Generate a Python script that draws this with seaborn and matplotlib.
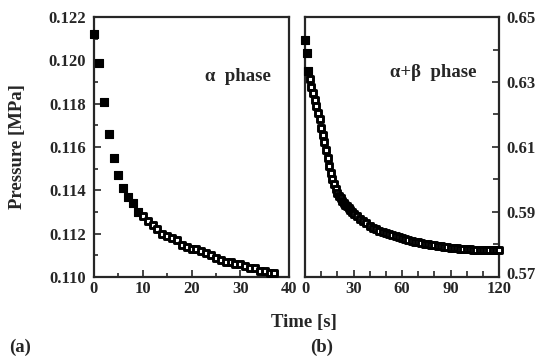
import numpy as np
import pandas as pd
import matplotlib
matplotlib.use("Agg")
import matplotlib.pyplot as plt
import matplotlib.transforms as mtransforms
import seaborn as sns
from matplotlib.ticker import MultipleLocator, FixedLocator, FormatStrFormatter

# ---- data ----
alpha_time = [0, 1, 2, 3, 4, 5, 6, 7, 8, 9, 10, 11, 12, 13, 14, 15, 16, 17, 18, 19,
              20, 21, 22, 23, 24, 25, 26, 27, 28, 29, 30, 31, 32, 33, 34, 35, 36, 37]
alpha_pressure = [0.1212, 0.1199, 0.1181, 0.1166, 0.1155, 0.1147, 0.1141, 0.1137, 0.1134, 0.1130,
                  0.1128, 0.1126, 0.1124, 0.1122, 0.1120, 0.1119, 0.1118, 0.1117, 0.1115, 0.1114,
                  0.1113, 0.1113, 0.1112, 0.1111, 0.1110, 0.1109, 0.1108, 0.1107, 0.1107, 0.1106,
                  0.1106, 0.1105, 0.1104, 0.1104, 0.1103, 0.1103, 0.1102, 0.1102]

ab_time = [0, 1, 2, 3, 4, 5, 6, 7, 8, 9, 10, 11, 12, 13, 14, 15, 16, 17, 18, 19, 20,
           21, 22, 23, 24, 25, 26, 27, 28, 29, 30,
           32, 34, 36, 38, 40, 42, 44, 46, 48, 50, 52, 54, 56, 58, 60, 62, 64, 66, 68, 70,
           72, 74, 76, 78, 80, 82, 84, 86, 88, 90, 92, 94, 96, 98, 100, 102, 104, 106, 108,
           110, 112, 114, 116, 118, 120]
ab_pressure = [0.6430, 0.6389, 0.6335, 0.6310, 0.6285, 0.6265, 0.6245, 0.6225, 0.6205, 0.6185,
               0.6160, 0.6138, 0.6115, 0.6090, 0.6065, 0.6042, 0.6020, 0.6002, 0.5985, 0.5970,
               0.5957, 0.5949, 0.5942, 0.5935, 0.5928, 0.5922, 0.5917, 0.5911, 0.5905, 0.5900,
               0.5895,
               0.5887, 0.5880, 0.5872, 0.5865, 0.5858, 0.5852, 0.5847, 0.5843, 0.5838, 0.5835,
               0.5831, 0.5828, 0.5825, 0.5822, 0.5819, 0.5816, 0.5814, 0.5812, 0.5809, 0.5807,
               0.5805, 0.5803, 0.5801, 0.5799, 0.5797, 0.5796, 0.5794, 0.5793, 0.5792, 0.5790,
               0.5789, 0.5788, 0.5787, 0.5786, 0.5786, 0.5785, 0.5784, 0.5784, 0.5783, 0.5783,
               0.5783, 0.5782, 0.5782, 0.5782, 0.5782]

alpha_label = "α  phase"
ab_label = "α+β  phase"
x_label = "Time [s]"
y_label = "Pressure [MPa]"
right_ticks = [0.57, 0.59, 0.61, 0.63, 0.65]

sns.set_theme(style="ticks")
plt.rcParams['font.family'] = ['Liberation Serif', 'DejaVu Serif']
plt.rcParams['font.weight'] = 'bold'
plt.rcParams['axes.linewidth'] = 1.6

fig = plt.figure(figsize=(5.38, 3.58), dpi=100)
W, H = 538, 358
def rect(x0, y0, x1, y1):
    return [x0 / W, 1 - y1 / H, (x1 - x0) / W, (y1 - y0) / H]

ax1 = fig.add_axes(rect(94, 17, 289, 277))
ax2 = fig.add_axes(rect(305, 17, 499, 277))

df1 = pd.DataFrame({"t": alpha_time, "p": alpha_pressure})
df2 = pd.DataFrame({"t": ab_time, "p": ab_pressure})

n1 = 10
sns.scatterplot(data=df1.iloc[:n1], x="t", y="p", ax=ax1, marker="s", s=28,
                color="black", edgecolor="black", linewidth=0.8, clip_on=False, zorder=3)
sns.scatterplot(data=df1.iloc[n1:], x="t", y="p", ax=ax1, marker="s", s=24,
                facecolor="white", edgecolor="black", linewidth=2.1, clip_on=False, zorder=3)

n2 = 3
sns.scatterplot(data=df2.iloc[:n2], x="t", y="p", ax=ax2, marker="s", s=26,
                color="black", edgecolor="black", linewidth=0.8, clip_on=False, zorder=3)
sns.scatterplot(data=df2.iloc[n2:], x="t", y="p", ax=ax2, marker="s", s=24,
                facecolor="white", edgecolor="black", linewidth=2.1, clip_on=False, zorder=3)

tick_fs = 12
lab_fs = 13.5
# left panel
ax1.set_xlim(0, 40)
ax1.set_ylim(0.110, 0.122)
ax1.xaxis.set_major_locator(MultipleLocator(10))
ax1.xaxis.set_minor_locator(MultipleLocator(5))
ax1.yaxis.set_major_locator(MultipleLocator(0.002))
ax1.yaxis.set_minor_locator(MultipleLocator(0.001))
ax1.yaxis.set_major_formatter(FormatStrFormatter('%.3f'))
ax1.tick_params(which='both', direction='in', top=False, right=False,
                labelsize=tick_fs, width=1.2)
ax1.tick_params(axis='x', pad=3)
ax1.tick_params(axis='y', pad=6)
ax1.tick_params(which='major', length=5)
ax1.tick_params(which='minor', length=3)
ax1.set_xlabel("")
ax1.set_ylabel(y_label, fontsize=lab_fs, fontweight='bold')
ax1.yaxis.set_label_coords((26 - 94) / 195, 0.5)
ax1.text(0.57, 0.77, alpha_label, transform=ax1.transAxes, fontsize=lab_fs,
         fontweight='bold', ha='left', va='center')

# right panel
ax2.set_xlim(0, 120)
ax2.set_ylim(0.57, 0.65)
ax2.xaxis.set_major_locator(MultipleLocator(30))
ax2.xaxis.set_minor_locator(MultipleLocator(10))
ax2.yaxis.set_major_locator(FixedLocator(right_ticks))
ax2.yaxis.set_minor_locator(MultipleLocator(0.01))
ax2.yaxis.set_major_formatter(FormatStrFormatter('%.2f'))
ax2.yaxis.tick_right()
ax2.tick_params(which='both', direction='in', top=False, left=False, right=True,
                labelleft=False, labelright=True, labelsize=tick_fs, width=1.2)
ax2.tick_params(axis='x', pad=3)
ax2.tick_params(axis='y', pad=5.5)
ax2.tick_params(which='major', length=5)
ax2.tick_params(which='minor', length=4)
ax2.set_xlabel("")
ax2.set_ylabel("")
ax2.text(0.44, 0.785, ab_label, transform=ax2.transAxes, fontsize=lab_fs,
         fontweight='bold', ha='left', va='center')

fig.text(304 / W, 1 - 323 / H, x_label, fontsize=lab_fs, fontweight='bold', ha='center', va='center')
fig.text(20 / W, 1 - 347 / H, "(a)", fontsize=lab_fs, fontweight='bold', ha='center', va='center')
fig.text(322 / W, 1 - 347 / H, "(b)", fontsize=lab_fs, fontweight='bold', ha='center', va='center')

fig.canvas.draw()
for lab in ax1.get_xticklabels() + ax1.get_yticklabels() + ax2.get_xticklabels() + ax2.get_yticklabels():
    lab.set_fontweight('bold')

def nudge(label, dx, dy):
    label.set_transform(label.get_transform() +
                        mtransforms.ScaledTranslation(dx / 100, dy / 100, fig.dpi_scale_trans))

nudge(ax1.get_xticklabels()[-1], -4, 0)
nudge(ax2.get_xticklabels()[-1], -6, 0)
nudge(ax2.get_yticklabels()[0], 0, 4)

fig.savefig("out.png", dpi=100)
